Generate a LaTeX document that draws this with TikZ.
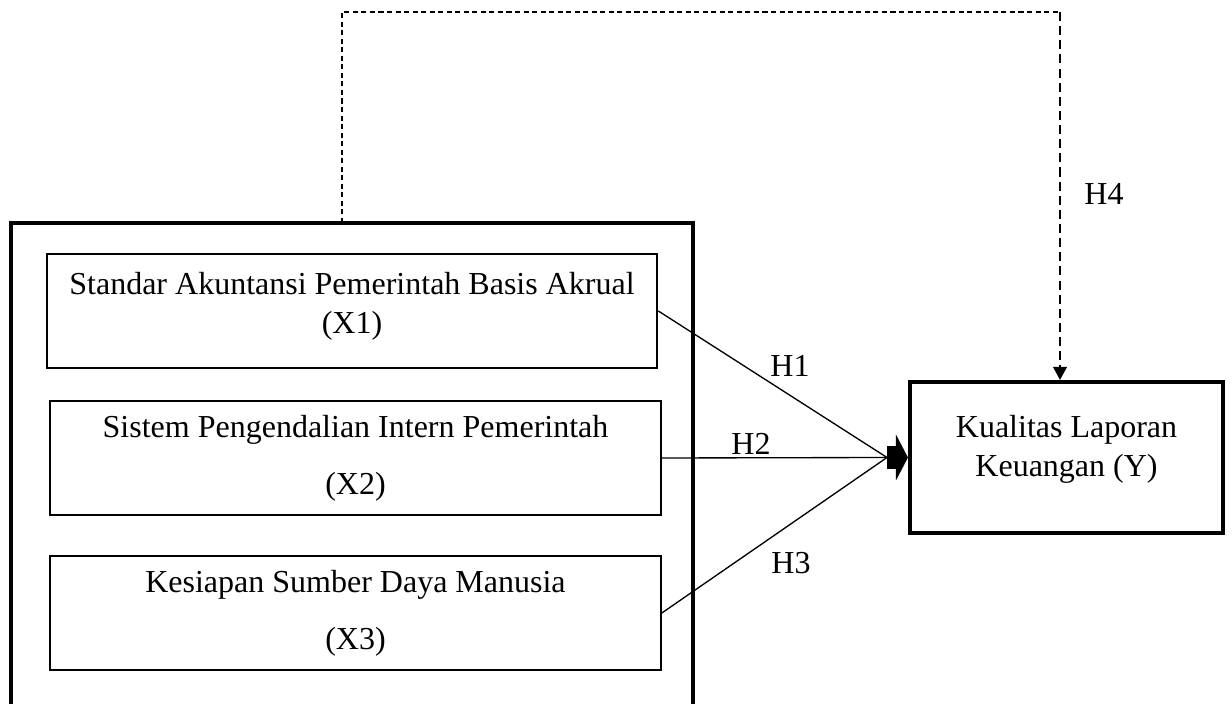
\documentclass[tikz,border=0pt]{standalone}
\usepackage{fontspec}
\setmainfont{Liberation Serif}
\usetikzlibrary{arrows.meta, positioning}

\begin{document}
\begin{tikzpicture}[x=0.375pt, y=-0.375pt,
  varbox/.style={draw, line width=0.75pt, minimum width=229pt, minimum height=42.75pt, align=center, inner sep=0pt, font=\fontsize{12}{14.6}\selectfont},
  hlabel/.style={font=\fontsize{12}{14.6}\selectfont, inner sep=0pt},
  link/.style={line width=0.5pt}]

  \useasboundingbox (0,0) rectangle (1232,704);

  % Outer frame (bottom edge runs off the page)
  \node[draw, line width=1.5pt, outer sep=0pt, minimum width=255.75pt, minimum height=205pt, anchor=north west, inner sep=0pt] (frame) at (11,223) {};

  % Variables X
  \node[varbox, text depth=6pt] (x1) at (352, 311) {Standar Akuntansi Pemerintah Basis Akrual\\(X1)};
  \node[varbox] (x2) at (355.5, 458) {Sistem Pengendalian Intern Pemerintah\\[6.8pt](X2)};
  \node[varbox] (x3) at (355.5, 613) {Kesiapan Sumber Daya Manusia\\[6.8pt](X3)};

  % Variable Y
  \node[draw, line width=1.5pt, minimum width=117.4pt, minimum height=56.6pt, align=center, inner sep=0pt, text depth=8.6pt, font=\fontsize{12}{14.6}\selectfont] (y) at (1066.5, 457.5) {Kualitas Laporan\\Keuangan (Y)};

  % Partial paths
  \coordinate (hub) at (887, 457.5);
  \draw[link] (x1.east) -- (hub);
  \draw[link] (x2.east) -- (hub);
  \draw[link] (x3.east) -- (hub);
  \draw[line width=8.6pt, -{Triangle[length=4.5pt, width=17pt]}] (hub) -- (y.west);

  \node[hlabel] (h1) at (790, 366) {H1};
  \node[hlabel] (h2) at (751, 444) {H2};
  \node[hlabel] (h3) at (791, 563) {H3};

  % Simultaneous path
  \coordinate (up) at (342, 12);
  \coordinate (turn) at (1060, 12);
  \draw[line width=0.4pt, dash pattern=on 1.9pt off 1.3pt] (up |- frame.north) -- (up) -- (turn);
  \draw[line width=1pt, dash pattern=on 3.4pt off 1.9pt, -{Triangle[length=4.9pt, width=5pt]}] (turn) -- (turn |- y.north);
  \node[hlabel] (h4) at (1104, 194) {H4};
\end{tikzpicture}
\end{document}
